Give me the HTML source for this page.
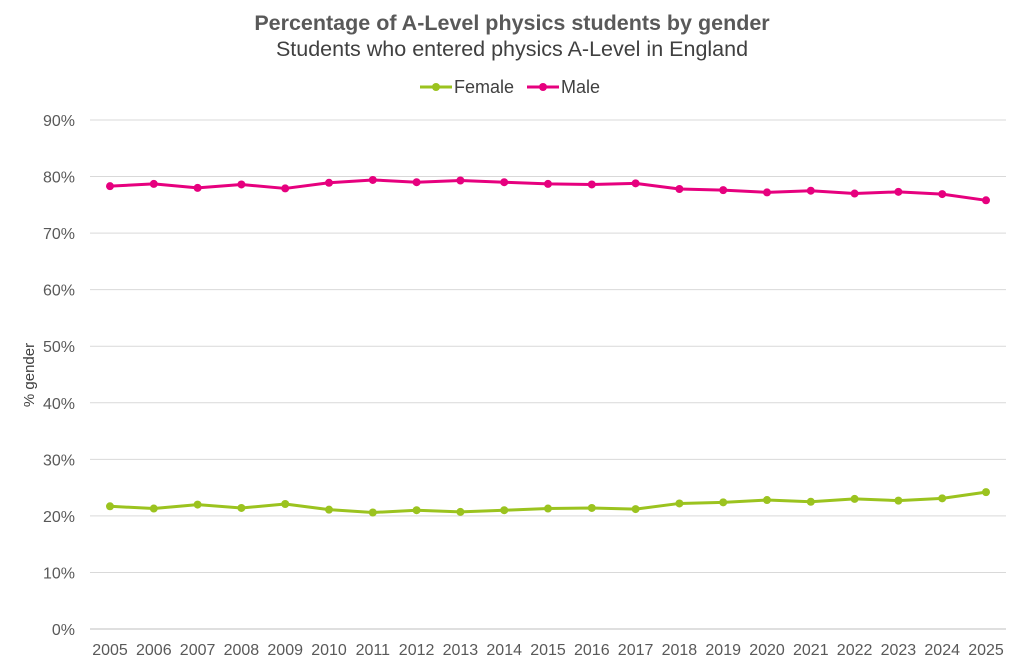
<!DOCTYPE html>
<html><head><meta charset="utf-8"><style>
html,body{margin:0;padding:0;background:#fff;width:1024px;height:668px;overflow:hidden}
svg text{font-family:"Liberation Sans",sans-serif}
</style></head><body>
<svg id="chart" width="1024" height="668" xmlns="http://www.w3.org/2000/svg">
<text x="512" y="30" text-anchor="middle" font-size="21.5" font-weight="bold" fill="#595959">Percentage of A-Level physics students by gender</text>
<text x="512" y="56" text-anchor="middle" font-size="21.5" fill="#404040">Students who entered physics A-Level in England</text>
<g>
<g><line x1="420" y1="87" x2="452" y2="87" stroke="#9bc31f" stroke-width="3"/><circle cx="436" cy="87" r="4" fill="#9bc31f"/><text x="454" y="93" font-size="18" fill="#404040">Female</text></g>
<g><line x1="527" y1="87" x2="559" y2="87" stroke="#e6007e" stroke-width="3"/><circle cx="543" cy="87" r="4" fill="#e6007e"/><text x="561" y="93" font-size="18" fill="#404040">Male</text></g>
</g>
<text transform="translate(34,375) rotate(-90)" text-anchor="middle" font-size="15" fill="#404040">% gender</text>
<g id="grid"></g><g id="xt"></g><g id="lines"></g>
</svg>
<script>
const years=['2005','2006','2007','2008','2009','2010','2011','2012','2013','2014','2015','2016','2017','2018','2019','2020','2021','2022','2023','2024','2025'];
const male=[78.3,78.7,78.0,78.6,77.9,78.9,79.4,79.0,79.3,79.0,78.7,78.6,78.8,77.8,77.6,77.2,77.5,77.0,77.3,76.9,75.8];
const female=[21.7,21.3,22.0,21.4,22.1,21.1,20.6,21.0,20.7,21.0,21.3,21.4,21.2,22.2,22.4,22.8,22.5,23.0,22.7,23.1,24.2];
const yTicks=[0,10,20,30,40,50,60,70,80,90];
const NS='http://www.w3.org/2000/svg';
const x0=110,x1=986,yBase=629,yTop=120;
const xs=i=>x0+(x1-x0)*i/(years.length-1);
const ys=v=>yBase-(yBase-yTop)*v/90;
function mk(t,a,p){const e=document.createElementNS(NS,t);for(const k in a)e.setAttribute(k,a[k]);p.appendChild(e);return e;}
const g=document.getElementById('grid');
yTicks.forEach(v=>{
 const l=mk('line',{x1:90,x2:1006,y1:ys(v),y2:ys(v),stroke:v===0?'#bfbfbf':'#d9d9d9','stroke-width':1},g);
 
 
 const t=mk('text',{x:75,y:ys(v)+6,'text-anchor':'end','font-size':16,fill:'#595959'},g);
 t.textContent=v+'%';
 
 
});
const xt=document.getElementById('xt');
years.forEach((y,i)=>{
 const t=mk('text',{x:xs(i),y:655,'text-anchor':'middle','font-size':16,fill:'#595959'},xt);
 t.textContent=y;
 
 
});
const L=document.getElementById('lines');
[[female,'#9bc31f','female'],[male,'#e6007e','male']].forEach(([d,c,n])=>{
 const p=mk('polyline',{points:d.map((v,i)=>xs(i)+','+ys(v)).join(' '),fill:'none',stroke:c,'stroke-width':3,'stroke-linejoin':'round'},L);
 
 
 d.forEach((v,i)=>{
  const ci=mk('circle',{cx:xs(i),cy:ys(v),r:4,fill:c},L);
  
  
 });
});
</script>
</body></html>
